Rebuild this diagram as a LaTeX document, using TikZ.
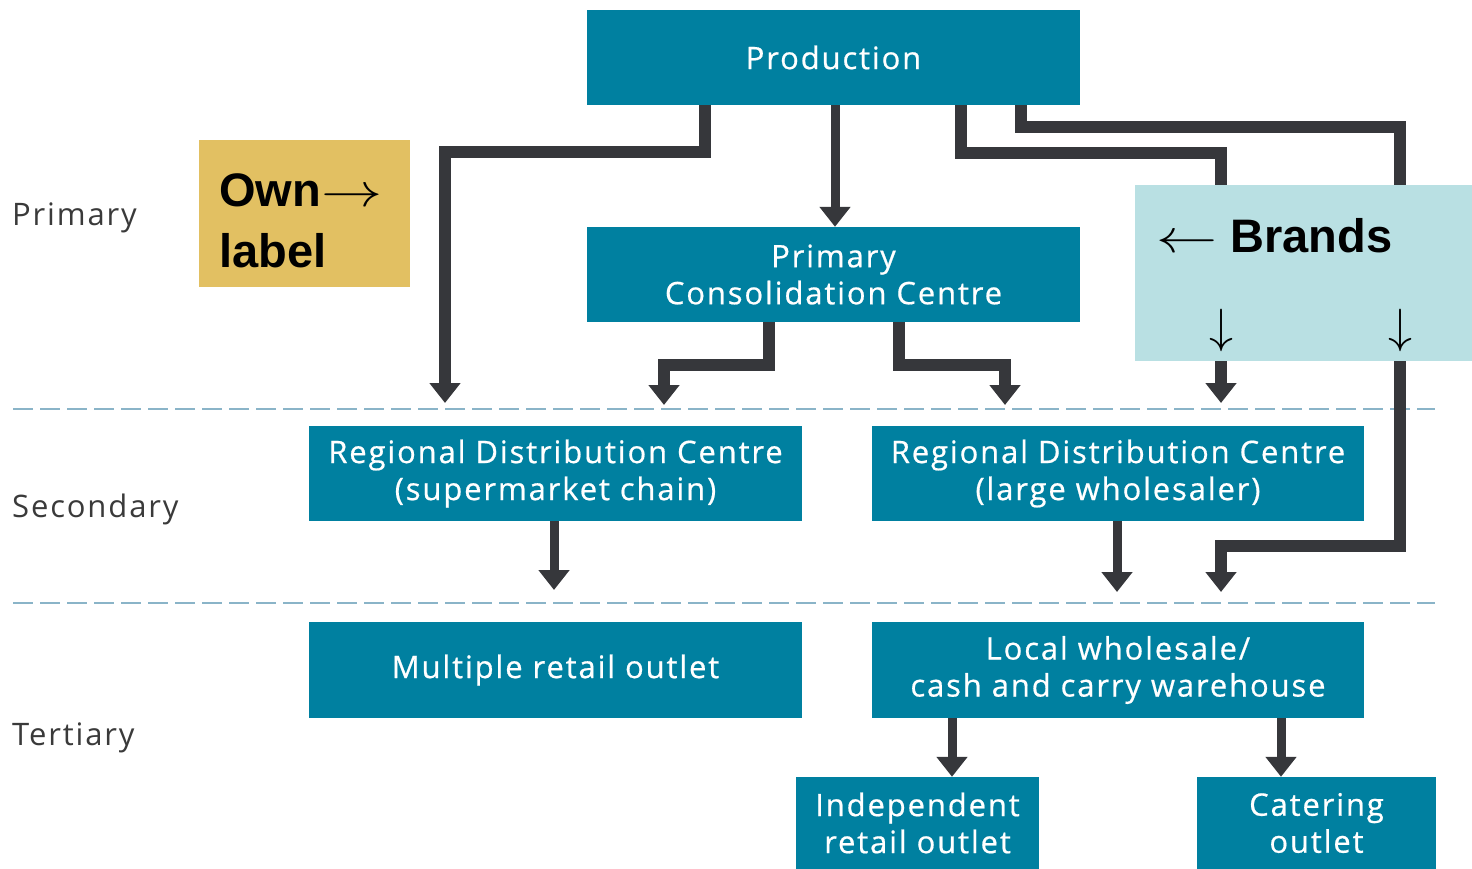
\RequirePackage{fix-cm}
\documentclass[tikz,border=0pt]{standalone}
\usepackage{graphicx}
\usepackage{fontspec}
\setmainfont{Open Sans}
\newfontfamily\boxfont{Open Sans}[LetterSpace=6, FakeBold=0.6]
\newfontfamily\levelfont{Open Sans}[LetterSpace=6]
\newfontfamily\heavy{Liberation Sans}[BoldFont={Liberation Sans Bold}]
\usetikzlibrary{arrows.meta}
\definecolor{tealbox}{RGB}{0,128,160}
\definecolor{connc}{RGB}{54,55,59}
\definecolor{ownc}{RGB}{226,192,98}
\definecolor{brandc}{RGB}{185,224,227}
\definecolor{dashc}{RGB}{138,180,200}
\definecolor{levelc}{RGB}{58,58,58}
\tikzset{
  tbox/.style={fill=tealbox, draw=none, inner sep=0pt, text=white, align=center,
    font=\boxfont\fontsize{31}{37}\selectfont, minimum width=493pt, minimum height=95pt},
  conn/.style={draw=connc, line width=12pt, line join=miter, line cap=butt,
    -{Triangle[width=30pt,length=20pt]}},
  thinconn/.style={conn, line width=9pt},
  level/.style={anchor=west, text=levelc, font=\levelfont\fontsize{31}{34}\selectfont, inner sep=0pt},
  sep/.style={draw=dashc, line width=2.5pt, dash pattern=on 20pt off 7pt},
  bigtxt/.style={font=\heavy\bfseries\fontsize{47}{60}\selectfont, inner sep=0pt},
  downarr/.style={inner sep=0pt, font=\fontsize{48}{48}\selectfont},
}
\begin{document}
\begin{tikzpicture}[x=1pt,y=-1pt]
\useasboundingbox (0,0) rectangle (1472,869);

% separators
\draw[sep] (13,409) -- (1435,409);
\draw[sep] (13,603) -- (1435,603);

% level labels
\node[level] (lp) at (12,218) {Primary};
\node[level] (ls) at (12,509) {Secondary};
\node[level] (lt) at (12,738) {Tertiary};

% boxes
\node[tbox] (prod) at (833.5,57.5) {Production};
\node[tbox] (pcc) at (833.5,274.5) {Primary\\Consolidation Centre};
\node[tbox] (rdc1) at (555.5,473.5) {Regional Distribution Centre\\(supermarket chain)};
\node[tbox, minimum width=492pt] (rdc2) at (1118,473.5) {Regional Distribution Centre\\(large wholesaler)};
\node[tbox, minimum height=96pt] (mro) at (555.5,670) {Multiple retail outlet};
\node[tbox, minimum width=492pt, minimum height=96pt] (lw) at (1118,670) {Local wholesale/\\cash and carry warehouse};
\node[tbox, minimum width=243pt, minimum height=92pt] (ind) at (917.5,823) {Independent\\retail outlet};
\node[tbox, minimum width=239pt, minimum height=92pt] (cat) at (1316.5,823) {Catering\\outlet};

% own label
\node[fill=ownc, minimum width=211pt, minimum height=147pt, inner sep=0pt] (own) at (304.5,213.5) {};
\node[bigtxt, anchor=base west] (ownt1) at (219,207) {Own\scalebox{1.3}[1]{$\rightarrow$}};
\node[bigtxt, anchor=base west] (ownt2) at (219,267) {label};

% free ends
\coordinate (tA) at (445,403);
\coordinate (tB) at (664,405);
\coordinate (tC) at (1005,405);
\coordinate (tD) at (1221,403);
\coordinate (tE) at (1221,592);
\coordinate (tF) at (554,590);
\coordinate (tG) at (1117,592);

% connectors
\draw[conn] ([xshift=-128.5pt]prod.south) |- (445,152) -- (tA);
\draw[thinconn] ([xshift=1.5pt]prod.south) -- ([xshift=1.5pt]pcc.north);
\draw[conn] ([xshift=127.5pt]prod.south) |- (1221,153) -- (tD);
\draw[conn] ([xshift=187.5pt]prod.south) |- (1400,127) |- (1221,546) -- (tE);
\draw[conn] ([xshift=-64.5pt]pcc.south) |- (664,365) -- (tB);
\draw[conn] ([xshift=65.5pt]pcc.south) |- (1005,365) -- (tC);
\draw[thinconn] ([xshift=-1.5pt]rdc1.south) -- (tF);
\draw[thinconn] ([xshift=-1pt]rdc2.south) -- (tG);
\draw[thinconn] ([xshift=-166pt]lw.south) -- ([xshift=34.5pt]ind.north);
\draw[thinconn] ([xshift=163pt]lw.south) -- ([xshift=-35.5pt]cat.north);

% brands box over the lines
\node[fill=brandc, minimum width=337pt, minimum height=176pt, inner sep=0pt] (brands) at (1303.5,273) {};
\node[bigtxt, anchor=base west] (brt) at (1156,252) {\scalebox{1.3}[1]{$\leftarrow$}\hspace{13pt}Brands};
\node[downarr] (ba1) at (1221,330) {$\downarrow$};
\node[downarr] (ba2) at (1400,330) {$\downarrow$};
\end{tikzpicture}
\end{document}
